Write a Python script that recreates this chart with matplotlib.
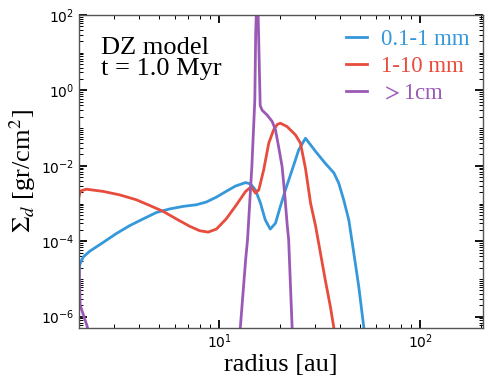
import numpy as np
import matplotlib
matplotlib.use("Agg")
import matplotlib.pyplot as plt
from matplotlib.ticker import LogLocator, FixedLocator, NullFormatter

# dust surface density at t = 1 Myr
r_small = [2.0, 2.02, 2.10, 2.26, 2.64, 3.07, 3.58, 4.17, 4.86, 5.66, 6.59, 7.69, 8.61,
           9.66, 10.8, 12.0, 13.5, 14.3, 15.1, 16.0, 16.9, 17.9, 19.0, 20.1, 21.3, 23.0,
           24.8, 26.8, 30.1, 33.6, 37.1, 39.2, 41.5, 44.0, 46.6, 49.3, 52.2, 53.5]
s_small = [1.1e-5, 2.4e-5, 3.8e-5, 5.4e-5, 9.3e-5, 1.6e-4, 2.6e-4, 3.9e-4, 5.8e-4,
           7.2e-4, 8.4e-4, 9.3e-4, 1.1e-3, 1.48e-3, 2.1e-3, 2.9e-3, 3.6e-3, 3.3e-3,
           2.3e-3, 1.03e-3, 3.7e-4, 2.1e-4, 3.0e-4, 8.4e-4, 2.3e-3, 7.8e-3, 2.65e-2,
           5.4e-2, 2.4e-2, 1.17e-2, 6.5e-3, 3.5e-3, 1.26e-3, 3.7e-4, 4.9e-5, 6.4e-6,
           5.5e-7, 1e-7]

r_mid = [2.0, 2.02, 2.06, 2.18, 2.64, 3.19, 3.86, 4.50, 5.25, 6.11, 7.11, 7.98, 8.79,
         9.66, 10.8, 12.0, 13.5, 14.4, 15.1, 15.7, 16.6, 17.6, 18.6, 19.4, 20.1, 21.7,
         23.9, 25.3, 26.8, 28.4, 30.1, 31.8, 33.6, 35.6, 37.1, 38.0]
s_mid = [1.5e-3, 1.9e-3, 2.2e-3, 2.4e-3, 2.1e-3, 1.7e-3, 1.26e-3, 8.9e-4, 6.2e-4,
         3.9e-4, 2.5e-4, 1.9e-4, 1.75e-4, 2.1e-4, 3.9e-4, 8.4e-4, 2.1e-3, 2.8e-3,
         1.9e-3, 2.3e-3, 7.8e-3, 4.0e-2, 9.0e-2, 0.125, 0.135, 0.11, 6.6e-2, 4.0e-2,
         8.5e-3, 1.03e-3, 2.5e-4, 4.9e-5, 9.5e-6, 1.9e-6, 5e-7, 1e-7]

r_big = [1.95, 2.0, 2.03, 2.2, 2.3, 12.5, 12.7, 13.5, 13.8, 14.5, 15.0, 15.15, 15.45,
         15.95, 16.3, 17.3, 18.3, 19.0, 19.7, 20.5, 21.1, 21.7, 22.1, 23.0, 23.3]
s_big = [1e-4, 3e-5, 2e-6, 5.5e-7, 1e-7, 1e-7, 5e-7, 3.2e-5, 1.1e-4, 9.6e-3, 0.56,
         33.0, 800.0, 0.4, 0.30, 0.22, 0.15, 9.0e-2, 3.2e-2, 9.6e-3, 1.9e-3, 3.0e-4,
         1.1e-4, 5e-7, 1e-7]

labels = ["0.1-1 mm", "1-10 mm", r"$>$1cm"]
colors = ["#3498db", "#e74c3c", "#9b59b6"]

serif = ["Liberation Serif", "DejaVu Serif"]

fig = plt.figure(figsize=(4.9, 3.85), dpi=100)
ax = fig.add_axes([0.161, 0.148, 0.825, 0.813])

for r, s, lab, c in zip([r_small, r_mid, r_big], [s_small, s_mid, s_big], labels, colors):
    ax.plot(r, s, color=c, lw=2.0, label=lab, solid_joinstyle="round")

ax.set_xscale("log")
ax.set_yscale("log")
ax.set_xlim(2.0, 205)
ax.set_ylim(5e-7, 100)

ax.yaxis.set_major_locator(FixedLocator([1e-6, 1e-4, 1e-2, 1e0, 1e2]))
ax.yaxis.set_minor_locator(LogLocator(base=10, subs=np.arange(1, 10), numticks=20))
ax.yaxis.set_minor_formatter(NullFormatter())
ax.xaxis.set_minor_locator(LogLocator(base=10, subs=np.arange(2, 10), numticks=20))
ax.xaxis.set_minor_formatter(NullFormatter())

ax.tick_params(which="both", direction="in", top=True, right=True, labelsize=10)
ax.tick_params(which="major", length=6, width=1.3)
ax.tick_params(which="minor", length=3, width=0.7)
for sp in ax.spines.values():
    sp.set_color("#555555")
    sp.set_linewidth(1.0)

ax.set_xlabel("radius [au]", family=serif, fontsize=19, labelpad=2)
ax.set_ylabel(r"$\Sigma_d$ [gr/cm$^2$]", family=serif, fontsize=19,
              math_fontfamily="stix", labelpad=2)

ax.text(0.055, 0.93, "DZ model\nt = 1.0 Myr", transform=ax.transAxes, ha="left", va="top",
        family=serif, fontsize=19, linespacing=0.95)

leg = ax.legend(loc="upper right", frameon=False, labelcolor="linecolor",
                prop={"family": serif, "size": 16.5}, handlelength=0.9,
                handletextpad=0.6, labelspacing=0.27, borderaxespad=0.2)
for t in leg.get_texts():
    t.set_math_fontfamily("stix")

fig.savefig("out.png", dpi=100)
